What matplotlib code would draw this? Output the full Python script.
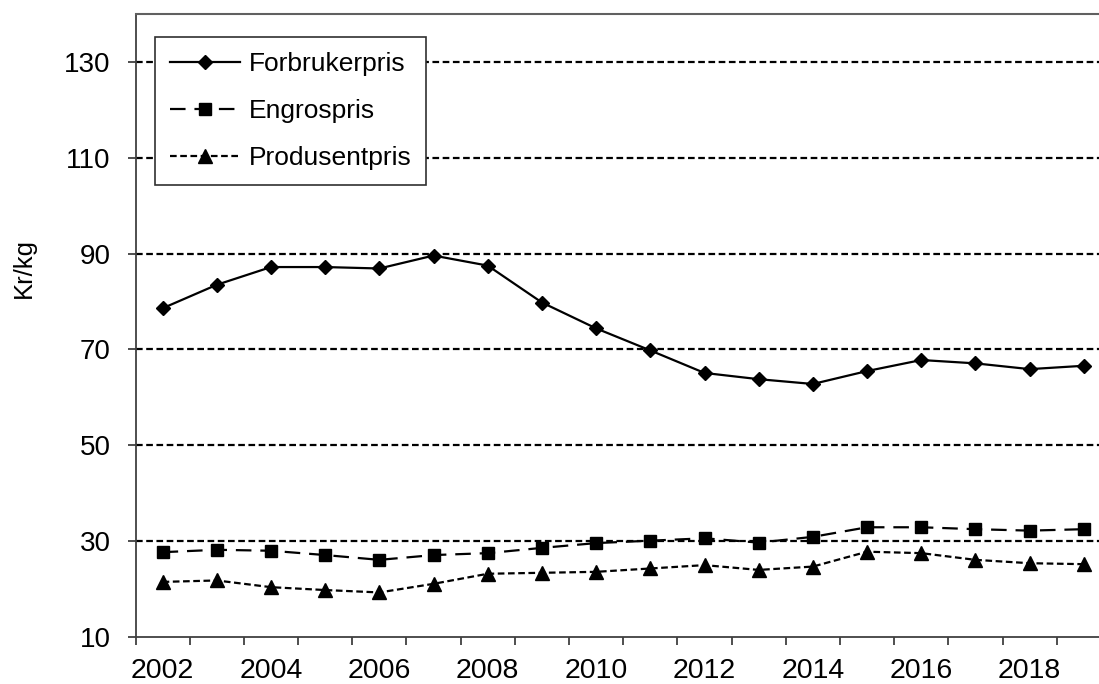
import matplotlib.pyplot as plt

plt.rcParams["font.family"] = ["Liberation Sans", "DejaVu Sans"]

# Priser per år (kr/kg)
aar = list(range(2002, 2020))
forbrukerpris = [78.6, 83.5, 87.2, 87.2, 86.9, 89.6, 87.5, 79.8, 74.4, 69.8,
                 65.1, 63.8, 62.8, 65.5, 67.8, 67.1, 65.9, 66.6]
engrospris = [27.7, 28.2, 28.0, 27.1, 26.1, 27.1, 27.5, 28.6, 29.6, 30.1,
              30.6, 29.7, 30.9, 32.9, 32.9, 32.5, 32.2, 32.5]
produsentpris = [21.5, 21.8, 20.4, 19.8, 19.3, 21.1, 23.2, 23.4, 23.6, 24.3,
                 25.0, 24.0, 24.7, 27.8, 27.5, 26.1, 25.4, 25.2]
y_ticks = [10, 30, 50, 70, 90, 110, 130]

fig = plt.figure(figsize=(10.99, 6.84), dpi=100)
# aksen går litt ut over høyre kant
ax = fig.add_axes([0.1233, 0.0687, 0.8876, 0.9108])

pos = list(range(len(aar)))
ax.plot(pos, forbrukerpris, color="black", linewidth=1.6, marker="D",
        markersize=7, label="Forbrukerpris")
ax.plot(pos, engrospris, color="black", linewidth=1.6, marker="s",
        markersize=8.5, dashes=(7, 4), label="Engrospris")
ax.plot(pos, produsentpris, color="black", linewidth=1.6, marker="^",
        markersize=9.5, dashes=(3, 1.6), label="Produsentpris")

ax.set_xlim(-0.5, len(aar) - 0.5)
ax.set_ylim(10, 140)

# kategori-akse: streker mellom årene, tekst på annethvert år
ax.set_xticks([p - 0.5 for p in pos])
ax.set_xticklabels([])
ax.set_xticks(pos[::2], minor=True)
ax.set_xticklabels([str(a) for a in aar[::2]], minor=True, fontsize=20.5)
ax.tick_params(axis="x", which="major", direction="out", length=6,
               width=1.3, color="#404040")
ax.tick_params(axis="x", which="minor", length=0, pad=15)

ax.set_yticks(y_ticks)
ax.set_yticklabels([str(v) for v in y_ticks], fontsize=20)
ax.tick_params(axis="y", direction="out", length=6, width=1.3,
               color="#404040", pad=12)

for v in y_ticks[1:]:
    ax.axhline(v, color="black", linewidth=1.6, dashes=(3, 1.6), zorder=1)

for s in ["left", "bottom"]:
    ax.spines[s].set_color("#404040")
    ax.spines[s].set_linewidth(1.3)
ax.spines["top"].set_color("#606060")
ax.spines["top"].set_linewidth(1.5)
ax.spines["right"].set_visible(False)

ax.set_ylabel("Kr/kg", fontsize=18.5)
ax.yaxis.set_label_coords(-0.102, 0.592)

leg = ax.legend(loc="upper left", bbox_to_anchor=(0.02, 0.963),
                borderaxespad=0, fontsize=19, handlelength=2.65,
                handletextpad=0.35, labelspacing=0.87, borderpad=0.56,
                fancybox=False, framealpha=1, edgecolor="#303030")
leg.get_frame().set_linewidth(1.2)

plt.savefig("out.png", dpi=100)
